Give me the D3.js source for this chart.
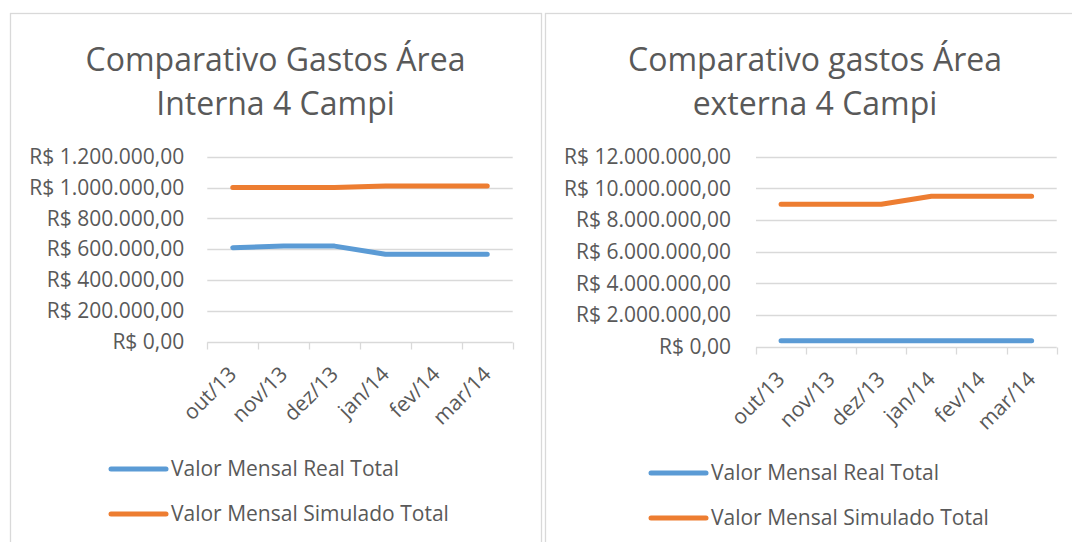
<!DOCTYPE html>
<html>
<head>
<meta charset="utf-8">
<script src="https://cdn.jsdelivr.net/npm/d3@7"></script>
<style>
    body { margin: 0; background: #fff; }
    text { font-family: "Open Sans", sans-serif; fill: #595959; }
</style>
</head>
<body>
<svg id="my_dataviz" width="1072" height="542"></svg>
<script>
// data
var months = ["out/13", "nov/13", "dez/13", "jan/14", "fev/14", "mar/14"];
var seriesNames = ["Valor Mensal Real Total", "Valor Mensal Simulado Total"];
var seriesColours = ["#5b9bd5", "#ed7d31"];

var internaReal = [610000, 620000, 620000, 567000, 567000, 567000];
var internaSimulado = [1000000, 1000000, 1000000, 1010000, 1010000, 1010000];
var internaTicks = [0, 200000, 400000, 600000, 800000, 1000000, 1200000];

var externaReal = [380000, 380000, 380000, 380000, 380000, 380000];
var externaSimulado = [9000000, 9000000, 9000000, 9500000, 9500000, 9500000];
var externaTicks = [0, 2000000, 4000000, 6000000, 8000000, 10000000, 12000000];

// brazilian currency format: R$ 1.200.000,00
var ptBR = d3.formatLocale({
    decimal: ",",
    thousands: ".",
    grouping: [3],
    currency: ["R$ ", ""]
});
var money = ptBR.format("$,.2f");

var svg = d3.select("#my_dataviz");

function drawChart(opt) {
    var g = svg.append("g");

    // chart area border
    g.append("rect")
        .attr("x", opt.box[0] + 0.5)
        .attr("y", opt.box[1] + 0.5)
        .attr("width", opt.box[2])
        .attr("height", opt.box[3])
        .attr("fill", "none")
        .attr("stroke", "#d9d9d9")
        .attr("stroke-width", 1.3);

    // title, two lines
    var cx = opt.box[0] + opt.box[2] / 2;
    g.selectAll(".title")
        .data(opt.title)
        .enter().append("text")
        .attr("class", "title")
        .attr("x", cx)
        .attr("y", function (d, i) { return 71 + i * 44; })
        .attr("text-anchor", "middle")
        .style("font-size", "32px")
        .text(function (d) { return d; });

    var x = d3.scaleBand()
        .domain(months)
        .range([opt.left, opt.right]);
    var y = d3.scaleLinear()
        .domain([0, opt.ticks[opt.ticks.length - 1]])
        .range([opt.bottom, opt.top]);

    // gridlines
    g.selectAll(".grid")
        .data(opt.ticks.slice(1))
        .enter().append("line")
        .attr("x1", opt.left)
        .attr("x2", opt.right)
        .attr("y1", function (d) { return Math.round(y(d)) + 0.5; })
        .attr("y2", function (d) { return Math.round(y(d)) + 0.5; })
        .attr("stroke", "#d9d9d9")
        .attr("stroke-width", 1.3);

    // y axis labels
    var yAxis = g.append("g")
        .attr("transform", "translate(" + opt.left + ",0)")
        .call(d3.axisLeft(y).tickValues(opt.ticks).tickFormat(money).tickSize(0).tickPadding(opt.pad));
    yAxis.select(".domain").remove();
    yAxis.selectAll("text")
        .style("font-size", "21px")
        .style("font-family", "'Open Sans', sans-serif")
        .attr("fill", "#595959");

    // x axis with ticks between categories
    var xAxis = g.append("g")
        .attr("transform", "translate(0," + (Math.round(opt.bottom) + 0.5) + ")");
    xAxis.append("line")
        .attr("x1", opt.left)
        .attr("x2", opt.right)
        .attr("stroke", "#d9d9d9")
        .attr("stroke-width", 1.3);
    var edges = months.map(function (m) { return x(m); }).concat([opt.right]);
    xAxis.selectAll(".tick")
        .data(edges)
        .enter().append("line")
        .attr("x1", function (d) { return Math.round(d) + 0.5; })
        .attr("x2", function (d) { return Math.round(d) + 0.5; })
        .attr("y1", 0)
        .attr("y2", 7)
        .attr("stroke", "#d9d9d9")
        .attr("stroke-width", 1.3);
    xAxis.selectAll(".lbl")
        .data(months)
        .enter().append("text")
        .attr("class", "lbl")
        .attr("transform", function (d) {
            return "translate(" + (x(d) + x.bandwidth() / 2 + 5) + ",33) rotate(-45)";
        })
        .attr("text-anchor", "end")
        .style("font-size", "21px")
        .text(function (d) { return d; });

    // series lines
    var line = d3.line()
        .x(function (d, i) { return x(months[i]) + x.bandwidth() / 2; })
        .y(function (d) { return y(d); });

    g.selectAll(".series")
        .data(opt.series)
        .enter().append("path")
        .attr("d", function (d) { return line(d); })
        .attr("fill", "none")
        .attr("stroke", function (d, i) { return seriesColours[i]; })
        .attr("stroke-width", 5)
        .attr("stroke-linecap", "round")
        .attr("stroke-linejoin", "round");

    // legend
    var legend = g.append("g");
    legend.selectAll("line")
        .data(seriesNames)
        .enter().append("line")
        .attr("x1", opt.legend[0])
        .attr("x2", opt.legend[0] + 55)
        .attr("y1", function (d, i) { return opt.legend[1] + i * 45; })
        .attr("y2", function (d, i) { return opt.legend[1] + i * 45; })
        .attr("stroke", function (d, i) { return seriesColours[i]; })
        .attr("stroke-width", 5)
        .attr("stroke-linecap", "round");
    legend.selectAll("text")
        .data(seriesNames)
        .enter().append("text")
        .attr("x", opt.legend[0] + 60)
        .attr("y", function (d, i) { return opt.legend[1] + i * 45; })
        .attr("dy", "0.35em")
        .style("font-size", "21px")
        .text(function (d) { return d; });
}

drawChart({
    box: [10, 13, 531, 560],
    title: ["Comparativo Gastos Área", "Interna 4 Campi"],
    left: 207.3, right: 512.7, top: 156.7, bottom: 341.7,
    pad: 23,
    ticks: internaTicks,
    series: [internaReal, internaSimulado],
    legend: [111, 469]
});

drawChart({
    box: [545, 13, 540, 560],
    title: ["Comparativo gastos Área", "externa 4 Campi"],
    left: 756, right: 1056.7, top: 156.7, bottom: 346.7,
    pad: 25,
    ticks: externaTicks,
    series: [externaReal, externaSimulado],
    legend: [651, 473]
});
</script>
</body>
</html>
